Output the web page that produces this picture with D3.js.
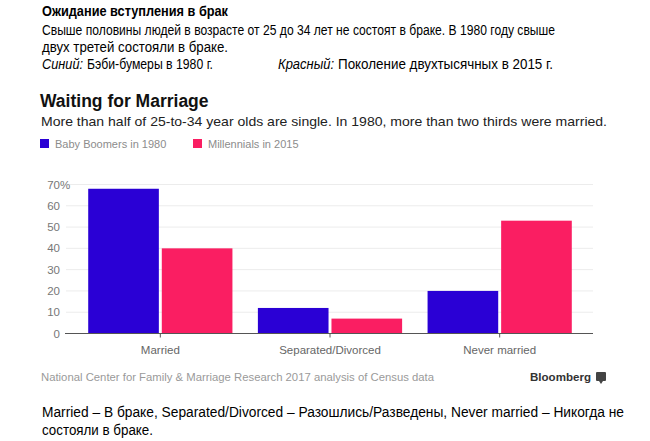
<!DOCTYPE html>
<html>
<head>
<meta charset="utf-8">
<script src="https://cdn.jsdelivr.net/npm/d3@7"></script>
<style>
  body { margin: 0; background: #fff; }
  svg { display: block; }
</style>
</head>
<body>
<svg id="chart" width="650" height="441"></svg>
<script>
const categories = ["Married", "Separated/Divorced", "Never married"];
const seriesNames = ["Baby Boomers in 1980", "Millennials in 2015"];
const boomers1980 = [68, 12, 20];
const millennials2015 = [40, 7, 53];
const yTicks = [0, 10, 20, 30, 40, 50, 60, 70];
const colors = ["#2a00d5", "#fa1e62"];

const svg = d3.select("#chart");
svg.append("rect").attr("width", 650).attr("height", 441).attr("fill", "#fff");

// russian header text (Calibri-like, squeezed)
const ru = "'Liberation Sans', Arial, sans-serif";
function ruText(x, yy, w, str, opts) {
  const t = svg.append("text").attr("x", x).attr("y", yy)
    .attr("font-family", ru).attr("font-size", 14)
    .attr("textLength", w).attr("lengthAdjust", "spacingAndGlyphs")
    .text(str);
  if (opts && opts.bold) t.attr("font-weight", "bold");
  if (opts && opts.italic) t.attr("font-style", "italic");
  return t;
}
ruText(42, 16, 186, "Ожидание вступления в брак", { bold: true });
ruText(42, 35, 513, "Свыше половины людей в возрасте от 25 до 34 лет не состоят в браке. В 1980 году свыше");
ruText(42, 52, 186, "двух третей состояли в браке.");
ruText(42, 69, 41, "Синий:", { italic: true });
ruText(87, 69, 126, "Бэби-бумеры в 1980 г.");
ruText(278, 69, 56, "Красный:", { italic: true });
ruText(338, 69, 215, "Поколение двухтысячных в 2015 г.");

// bloomberg chart
const font = "'Liberation Sans', Arial, sans-serif";
svg.append("text").attr("x", 40).attr("y", 107)
  .attr("font-family", font).attr("font-size", 17.5).attr("font-weight", "bold")
  .attr("fill", "#111").text("Waiting for Marriage");
svg.append("text").attr("x", 41).attr("y", 126)
  .attr("font-family", font).attr("font-size", 13).attr("fill", "#222")
  .attr("textLength", 566).attr("lengthAdjust", "spacingAndGlyphs")
  .text("More than half of 25-to-34 year olds are single. In 1980, more than two thirds were married.");

const legendX = [40, 193];
seriesNames.forEach((name, i) => {
  svg.append("rect").attr("x", legendX[i]).attr("y", 139).attr("width", 9).attr("height", 9)
    .attr("fill", colors[i]);
  svg.append("text").attr("x", legendX[i] + 15).attr("y", 147.5)
    .attr("font-family", font).attr("font-size", 11).attr("fill", "#8c8c8c")
    .text(name);
});

const y = d3.scaleLinear().domain([0, 70]).range([333.5, 184.5]);
const x0 = d3.scaleBand().domain(categories).range([67, 593])
  .paddingInner(0.15).paddingOuter(0.125);
const x1 = d3.scaleBand().domain(seriesNames).range([0, x0.bandwidth()]).paddingInner(0.04);

// gridlines
svg.append("g").selectAll("line").data(yTicks.filter(d => d > 0)).join("line")
  .attr("x1", 66).attr("x2", 593)
  .attr("y1", d => y(d)).attr("y2", d => y(d))
  .attr("stroke", "#ececec").attr("stroke-width", 1);

// y labels
svg.append("g").selectAll("text").data(yTicks).join("text")
  .attr("x", 60).attr("y", d => y(d) + 4)
  .attr("text-anchor", "end")
  .attr("font-family", font).attr("font-size", 11.5).attr("fill", "#777")
  .text(d => d);
svg.append("text").attr("x", 60).attr("y", y(70) + 4)
  .attr("font-family", font).attr("font-size", 11.5).attr("fill", "#777").text("%");

// bars
const rows = categories.map((c, i) => ({ cat: c, vals: [boomers1980[i], millennials2015[i]] }));
const groups = svg.append("g").selectAll("g").data(rows).join("g")
  .attr("transform", d => `translate(${x0(d.cat)},0)`);
groups.selectAll("rect")
  .data(d => d.vals.map((v, i) => ({ name: seriesNames[i], v: v, i: i })))
  .join("rect")
  .attr("x", d => x1(d.name))
  .attr("width", x1.bandwidth())
  .attr("y", d => y(d.v))
  .attr("height", d => y(0) - y(d.v))
  .attr("fill", d => colors[d.i]);

// x axis
const xAxis = svg.append("g").attr("transform", `translate(0,${y(0)})`)
  .call(d3.axisBottom(x0).tickSize(4).tickPadding(8).tickSizeOuter(0));
xAxis.select(".domain").attr("d", "M65,0H593").attr("stroke", "#555");
xAxis.selectAll(".tick line").attr("stroke", "#555");
xAxis.selectAll(".tick text")
  .attr("font-family", font).attr("font-size", 11.5).attr("fill", "#666");

// footer
svg.append("text").attr("x", 41).attr("y", 381)
  .attr("font-family", font).attr("font-size", 11).attr("fill", "#9a9a9a")
  .attr("textLength", 393).attr("lengthAdjust", "spacingAndGlyphs")
  .text("National Center for Family & Marriage Research 2017 analysis of Census data");
svg.append("text").attr("x", 530).attr("y", 381)
  .attr("font-family", font).attr("font-size", 11.5).attr("font-weight", "bold").attr("fill", "#333")
  .attr("textLength", 61).attr("lengthAdjust", "spacingAndGlyphs")
  .text("Bloomberg");
svg.append("rect").attr("x", 596).attr("y", 372).attr("width", 10).attr("height", 9)
  .attr("rx", 1).attr("fill", "#444");
svg.append("path").attr("d", "M599,381 L601,384 L603,381 Z").attr("fill", "#444");

// russian note below
ruText(42, 417, 582, "Married – В браке, Separated/Divorced – Разошлись/Разведены, Never married – Никогда не");
ruText(42, 435, 111, "состояли в браке.");
</script>
</body>
</html>
